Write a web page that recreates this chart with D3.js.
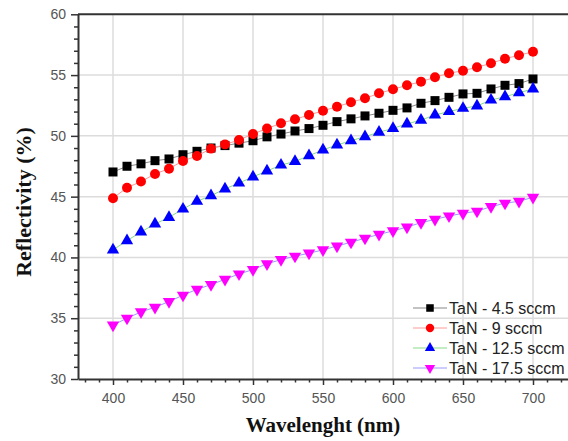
<!DOCTYPE html>
<html>
<head>
<meta charset="utf-8">
<script src="https://cdn.jsdelivr.net/npm/d3@7"></script>
<style>
  html, body { margin: 0; padding: 0; background: #fff; }
  svg { display: block; }
</style>
</head>
<body>
<div id="chart"></div>
<script>
// wavelength (nm)
var wavelength = [400, 410, 420, 430, 440, 450, 460, 470, 480, 490, 500,
                  510, 520, 530, 540, 550, 560, 570, 580, 590, 600,
                  610, 620, 630, 640, 650, 660, 670, 680, 690, 700]

// reflectivity (%) per sample
var tan45 = [47.03, 47.5, 47.7, 47.96, 48.1, 48.45, 48.73, 49.0, 49.2, 49.4, 49.6,
             49.92, 50.15, 50.4, 50.6, 50.87, 51.17, 51.4, 51.64, 51.86, 52.1,
             52.3, 52.68, 52.9, 53.17, 53.45, 53.5, 53.86, 54.16, 54.3, 54.68]
var tan9 = [44.87, 45.74, 46.24, 46.87, 47.3, 47.94, 48.35, 48.95, 49.3, 49.66, 50.16,
            50.6, 51.04, 51.36, 51.72, 52.06, 52.4, 52.76, 53.09, 53.5, 53.83,
            54.16, 54.46, 54.82, 55.15, 55.36, 55.64, 55.97, 56.35, 56.63, 56.92]
var tan125 = [40.62, 41.38, 42.1, 42.75, 43.3, 43.98, 44.62, 45.08, 45.64, 46.12, 46.63,
              47.11, 47.6, 47.9, 48.37, 48.85, 49.25, 49.6, 49.94, 50.3, 50.62,
              50.98, 51.3, 51.72, 52.0, 52.27, 52.46, 52.95, 53.22, 53.55, 53.86]
var tan175 = [34.43, 35.0, 35.52, 35.9, 36.37, 36.89, 37.38, 37.76, 38.2, 38.64, 39.0,
              39.48, 39.82, 40.1, 40.35, 40.62, 40.94, 41.25, 41.58, 41.9, 42.18,
              42.5, 42.86, 43.13, 43.41, 43.63, 43.8, 44.18, 44.46, 44.62, 44.95]

var seriesNames = ['TaN - 4.5 sccm', 'TaN - 9 sccm', 'TaN - 12.5 sccm', 'TaN - 17.5 sccm']

var xTicks = [400, 450, 500, 550, 600, 650, 700]
var yTicks = [30, 35, 40, 45, 50, 55, 60]

function drawChart(){

  var width = 568, height = 441
  var pLeft = 78, pRight = 568, pTop = 14.3, pBottom = 379

  var svg = d3.select('#chart').append('svg')
    .attr('width', width)
    .attr('height', height)

  var x = d3.scaleLinear().domain([375, 725]).range([pLeft, pRight])
  var y = d3.scaleLinear().domain([30, 60]).range([pBottom, pTop])

  // grid
  var grid = svg.append('g')
  grid.selectAll('.gx').data(xTicks).enter().append('line')
    .attr('x1', function(d){ return x(d) }).attr('x2', function(d){ return x(d) })
    .attr('y1', pTop).attr('y2', pBottom)
    .attr('stroke', '#dcdcdc').attr('stroke-width', 1.5)
  grid.selectAll('.gy').data(yTicks.slice(1, -1)).enter().append('line')
    .attr('x1', pLeft).attr('x2', pRight)
    .attr('y1', function(d){ return y(d) }).attr('y2', function(d){ return y(d) })
    .attr('stroke', '#dcdcdc').attr('stroke-width', 1.5)

  // top frame line
  svg.append('line')
    .attr('x1', pLeft).attr('x2', pRight).attr('y1', pTop).attr('y2', pTop)
    .attr('stroke', '#333').attr('stroke-width', 2)

  // minor ticks
  var xMinor = d3.range(380, 725, 10).filter(function(d){ return d % 50 != 0 })
  var yMinor = d3.range(30, 60, 1).filter(function(d){ return d % 5 != 0 })

  svg.append('g')
    .attr('transform', 'translate(0,' + pBottom + ')')
    .call(d3.axisBottom(x).tickValues(xMinor).tickSize(3.5).tickFormat(''))
    .call(function(g){ g.select('.domain').remove() })
  svg.append('g')
    .attr('transform', 'translate(' + pLeft + ',0)')
    .call(d3.axisLeft(y).tickValues(yMinor).tickSize(4).tickFormat(''))
    .call(function(g){ g.select('.domain').remove() })

  // major axes
  svg.append('g')
    .attr('transform', 'translate(0,' + pBottom + ')')
    .call(d3.axisBottom(x).tickValues(xTicks).tickSize(6).tickPadding(8).tickSizeOuter(0))
  svg.append('g')
    .attr('transform', 'translate(' + pLeft + ',0)')
    .call(d3.axisLeft(y).tickValues(yTicks).tickSize(7).tickPadding(5).tickSizeOuter(0))

  svg.selectAll('.tick line').attr('stroke', '#333').attr('stroke-width', 1.5)
  svg.selectAll('.domain').attr('stroke', '#333').attr('stroke-width', 2)
  svg.selectAll('.tick text')
    .attr('fill', '#555')
    .style('font-family', '"Liberation Sans", Arial, sans-serif')
    .style('font-size', '14px')

  // axis titles
  svg.append('text')
    .attr('x', (pLeft + pRight) / 2).attr('y', 432)
    .attr('text-anchor', 'middle')
    .style('font-family', '"Liberation Serif", "Times New Roman", serif')
    .style('font-weight', 'bold').style('font-size', '21px')
    .attr('fill', '#111')
    .text('Wavelenght (nm)')

  svg.append('text')
    .attr('transform', 'translate(31,202) rotate(-90)')
    .attr('text-anchor', 'middle')
    .style('font-family', '"Liberation Serif", "Times New Roman", serif')
    .style('font-weight', 'bold').style('font-size', '22px')
    .attr('fill', '#111')
    .text('Reflectivity (%)')

  // series
  var series = [
    { name: seriesNames[0], values: tan45, fill: '#000', line: '#888', symbol: d3.symbolSquare, size: 81, rot: 0 },
    { name: seriesNames[1], values: tan9, fill: '#f00', line: '#f99', symbol: d3.symbolCircle, size: 78, rot: 0 },
    { name: seriesNames[2], values: tan125, fill: '#00f', line: '#8d8', symbol: d3.symbolTriangle, size: 66, rot: 0 },
    { name: seriesNames[3], values: tan175, fill: '#f0f', line: '#99f', symbol: d3.symbolTriangle, size: 66, rot: 180 }
  ]

  var line = d3.line()
    .x(function(d){ return x(d[0]) })
    .y(function(d){ return y(d[1]) })

  series.forEach(function(s){
    var pts = wavelength.map(function(w, i){ return [w, s.values[i]] })
    var g = svg.append('g')
    g.append('path')
      .attr('d', line(pts))
      .attr('fill', 'none')
      .attr('stroke', s.line)
      .attr('stroke-width', 1)
    g.selectAll('.pt').data(pts).enter().append('path')
      .attr('d', d3.symbol().type(s.symbol).size(s.size))
      .attr('transform', function(d){
        return 'translate(' + x(d[0]) + ',' + y(d[1]) + ') rotate(' + s.rot + ')'
      })
      .attr('fill', s.fill)
  })

  // legend
  var legend = svg.append('g')
  series.forEach(function(s, i){
    var ly = 308 + i * 20
    legend.append('line')
      .attr('x1', 413).attr('x2', 447).attr('y1', ly).attr('y2', ly)
      .attr('stroke', s.line).attr('stroke-width', 1.2)
    legend.append('path')
      .attr('d', d3.symbol().type(s.symbol).size(s.size * 0.7))
      .attr('transform', 'translate(430,' + ly + ') rotate(' + s.rot + ')')
      .attr('fill', s.fill)
    legend.append('text')
      .attr('x', 449).attr('y', ly + 6)
      .style('font-family', '"Liberation Sans", Arial, sans-serif')
      .style('font-size', '16px')
      .attr('fill', '#222')
      .text(s.name)
  })
}

drawChart()
</script>
</body>
</html>
